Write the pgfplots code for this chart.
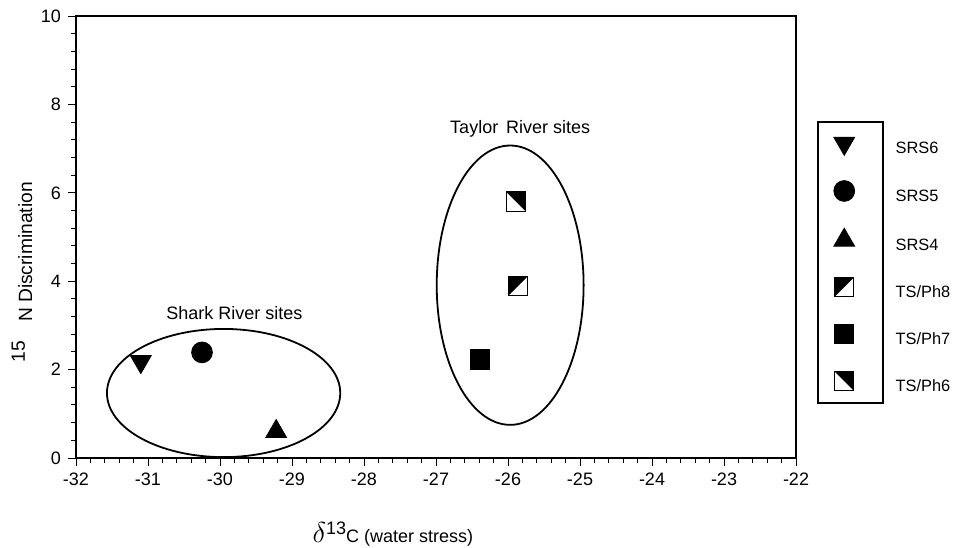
\documentclass[border=0pt]{standalone}
\usepackage{pgfplots}
\pgfplotsset{compat=1.18}
\usepackage{fontspec}
\setmainfont{Liberation Sans}
\pgfdeclareplotmark{sqUL}{%
  \pgfpathmoveto{\pgfqpoint{-\pgfplotmarksize}{-\pgfplotmarksize}}%
  \pgfpathlineto{\pgfqpoint{-\pgfplotmarksize}{\pgfplotmarksize}}%
  \pgfpathlineto{\pgfqpoint{\pgfplotmarksize}{\pgfplotmarksize}}%
  \pgfpathclose\pgfusepathqfill
  \pgfpathrectangle{\pgfqpoint{-\pgfplotmarksize}{-\pgfplotmarksize}}{\pgfqpoint{2\pgfplotmarksize}{2\pgfplotmarksize}}%
  \pgfusepathqstroke}
\pgfdeclareplotmark{sqUR}{%
  \pgfpathmoveto{\pgfqpoint{-\pgfplotmarksize}{\pgfplotmarksize}}%
  \pgfpathlineto{\pgfqpoint{\pgfplotmarksize}{\pgfplotmarksize}}%
  \pgfpathlineto{\pgfqpoint{\pgfplotmarksize}{-\pgfplotmarksize}}%
  \pgfpathclose\pgfusepathqfill
  \pgfpathrectangle{\pgfqpoint{-\pgfplotmarksize}{-\pgfplotmarksize}}{\pgfqpoint{2\pgfplotmarksize}{2\pgfplotmarksize}}%
  \pgfusepathqstroke}
\begin{document}
\begin{tikzpicture}
\useasboundingbox (-38pt,-44.5pt) rectangle (440.5pt,229pt);
\begin{axis}[
  at={(0pt,0pt)}, anchor=south west, clip=false,
  scale only axis, width=360pt, height=221pt,
  xmin=-32, xmax=-22, ymin=0, ymax=10,
  xtick={-32,-31,...,-22}, ytick={0,2,...,10},
  minor x tick num=4, minor y tick num=4,
  tick pos=left, tick align=outside,
  major tick length=4pt, minor tick length=2.5pt,
  axis line style={line width=0.8pt},
  every tick/.style={black, line width=0.5pt},
  /pgf/number format/assume math mode=true,
  tick label style={font=\small},
  xlabel={{\Large$\delta$}\raisebox{0.8ex}{13}C (water stress)},
  xlabel style={at={(axis description cs:0.44,-0.172)}, anchor=center, font=\small},
  ylabel={\raisebox{0.7ex}{15}\hspace{1em}N Discrimination},
  ylabel style={at={(axis description cs:-0.075,0.42)}, anchor=center, font=\fontsize{9.6}{12}\selectfont},
  legend style={at={(axis description cs:1.052,0.43)}, anchor=west, draw=none, fill=none,
    font=\fontsize{8.2}{10}\selectfont, row sep=10pt, inner sep=0pt,
    /tikz/every odd column/.append style={column sep=18.5pt},
    /tikz/every even column/.append style={yshift=-3pt}},
  legend cell align=left,
]
\addplot[only marks, mark=triangle*, mark size=6pt, mark options={rotate=180, fill=black, draw=black}] coordinates {(-31.1,2.18)};
\addlegendentry{SRS6}
\addplot[only marks, mark=*, mark size=5.2pt, mark options={fill=black, draw=black}] coordinates {(-30.25,2.39)};
\addlegendentry{SRS5}
\addplot[only marks, mark=triangle*, mark size=6pt, mark options={fill=black, draw=black}] coordinates {(-29.22,0.6)};
\addlegendentry{SRS4}
\addplot[only marks, mark=sqUL, mark size=4.8pt, mark options={fill=black, draw=black, line width=0.6pt}] coordinates {(-25.86,3.89)};
\addlegendentry{TS/Ph8}
\addplot[only marks, mark=square*, mark size=4.8pt, mark options={fill=black, draw=black}] coordinates {(-26.39,2.23)};
\addlegendentry{TS/Ph7}
\addplot[only marks, mark=sqUR, mark size=4.8pt, mark options={fill=black, draw=black, line width=0.6pt}] coordinates {(-25.89,5.8)};
\addlegendentry{TS/Ph6}
\draw[line width=0.9pt] (axis cs:-29.95,1.47) ellipse [x radius=1.62, y radius=1.45];
\draw[line width=0.9pt] (axis cs:-25.97,3.91) ellipse [x radius=1.02, y radius=3.16];
\node[font=\small] at (axis cs:-29.8,3.27) {Shark River sites};
\node[font=\small] at (axis cs:-25.83,7.45) {Taylor\, River sites};
\draw[line width=0.8pt] (axis description cs:1.0306,0.760) rectangle (axis description cs:1.1208,0.1244);
\end{axis}
\end{tikzpicture}
\end{document}
